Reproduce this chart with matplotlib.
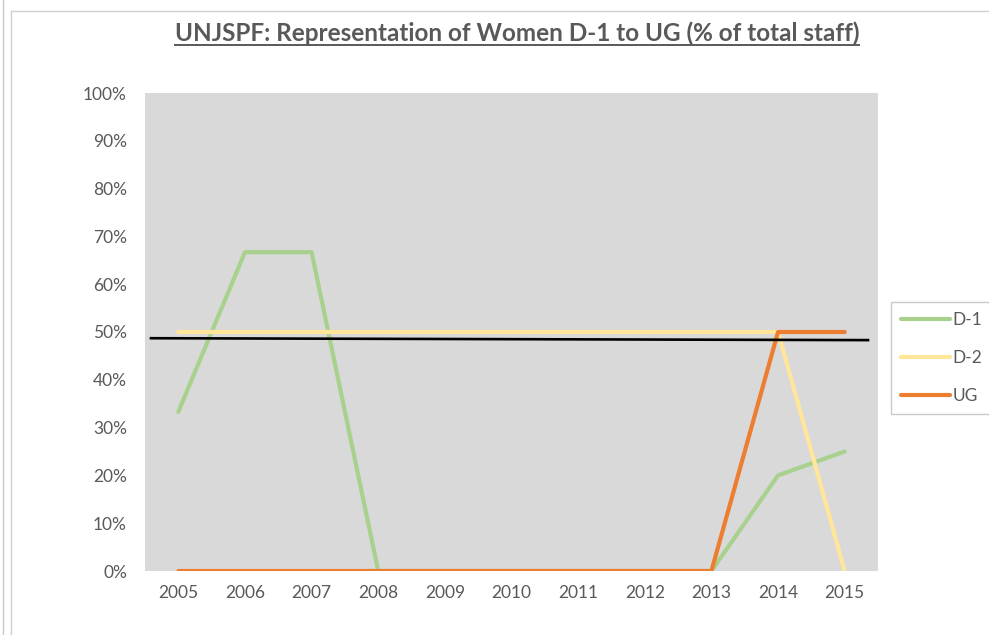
import matplotlib
matplotlib.use("Agg")
import matplotlib.pyplot as plt
from matplotlib.lines import Line2D
from matplotlib.ticker import PercentFormatter

years = [2005, 2006, 2007, 2008, 2009, 2010, 2011, 2012, 2013, 2014, 2015]
d1 = [33.3, 66.7, 66.7, 0, 0, 0, 0, 0, 0, 20, 25]
d2 = [50, 50, 50, 50, 50, 50, 50, 50, 50, 50, 0]
ug = [0, 0, 0, 0, 0, 0, 0, 0, 0, 50, 50]
ref_x = [2004.59, 2015.35]
ref_y = [48.7, 48.3]
title = "UNJSPF: Representation of Women D-1 to UG (% of total staff)"

plt.rcParams['font.family'] = ['Lato', 'DejaVu Sans']
fig = plt.figure(figsize=(9.89, 6.35), dpi=100)
W, H = 989, 635
ax = fig.add_axes([145 / W, 1 - 571 / H, (878 - 145) / W, (571 - 93) / H])
ax.set_facecolor('#d9d9d9')
for s in ax.spines.values():
    s.set_visible(False)

lw = 3.0
ax.plot(years, d1, color='#a9d18e', lw=lw, solid_capstyle='round', label='D-1', zorder=3)
ax.plot(years, d2, color='#ffe699', lw=lw, solid_capstyle='round', label='D-2', zorder=3)
ax.plot(years, ug, color='#ed7d31', lw=lw, solid_capstyle='round', label='UG', zorder=4)
ax.plot(ref_x, ref_y, color='black', lw=1.9, zorder=5)

ax.set_xlim(2004.5, 2015.5)
ax.set_ylim(0, 100)
ax.set_xticks(years)
ax.set_yticks(range(0, 101, 10))
ax.yaxis.set_major_formatter(PercentFormatter(decimals=0))
ax.tick_params(length=0, labelsize=12.5, colors='#595959', pad=13)
ax.tick_params(axis='x', pad=10)

leg = ax.legend(loc='center left', bbox_to_anchor=(891 / W, 1 - 358 / H), bbox_transform=fig.transFigure,
                frameon=True, fancybox=False, edgecolor='#bfbfbf', fontsize=12.5, labelcolor='#595959',
                handlelength=2.8, handletextpad=0.15, labelspacing=1.25, borderpad=0.6, borderaxespad=0)
leg.get_frame().set_linewidth(1.0)
for h in leg.get_lines():
    h.set_solid_capstyle('round')
for t in leg.get_texts():
    t.set_color('#595959')

# outer frame lines
fig.add_artist(Line2D([3 / W, 3 / W], [0, 1], transform=fig.transFigure, color='#c8c8c8', lw=1))
fig.add_artist(Line2D([11 / W, 11 / W], [0, 1 - 11 / H], transform=fig.transFigure, color='#d0d0d0', lw=1))
fig.add_artist(Line2D([11 / W, 1], [1 - 11 / H, 1 - 11 / H], transform=fig.transFigure, color='#d0d0d0', lw=1))

tt = fig.text(517 / W, 1 - 33 / H, title, ha='center', va='center', fontsize=17.5, fontweight='bold', color='#595959')
fig.canvas.draw()
bb = tt.get_window_extent()
uy = bb.y0 - 0.5
fig.add_artist(Line2D([bb.x0 / W, bb.x1 / W], [uy / H, uy / H], transform=fig.transFigure, color='#595959', lw=1.4))

fig.savefig('out.png', dpi=100)
